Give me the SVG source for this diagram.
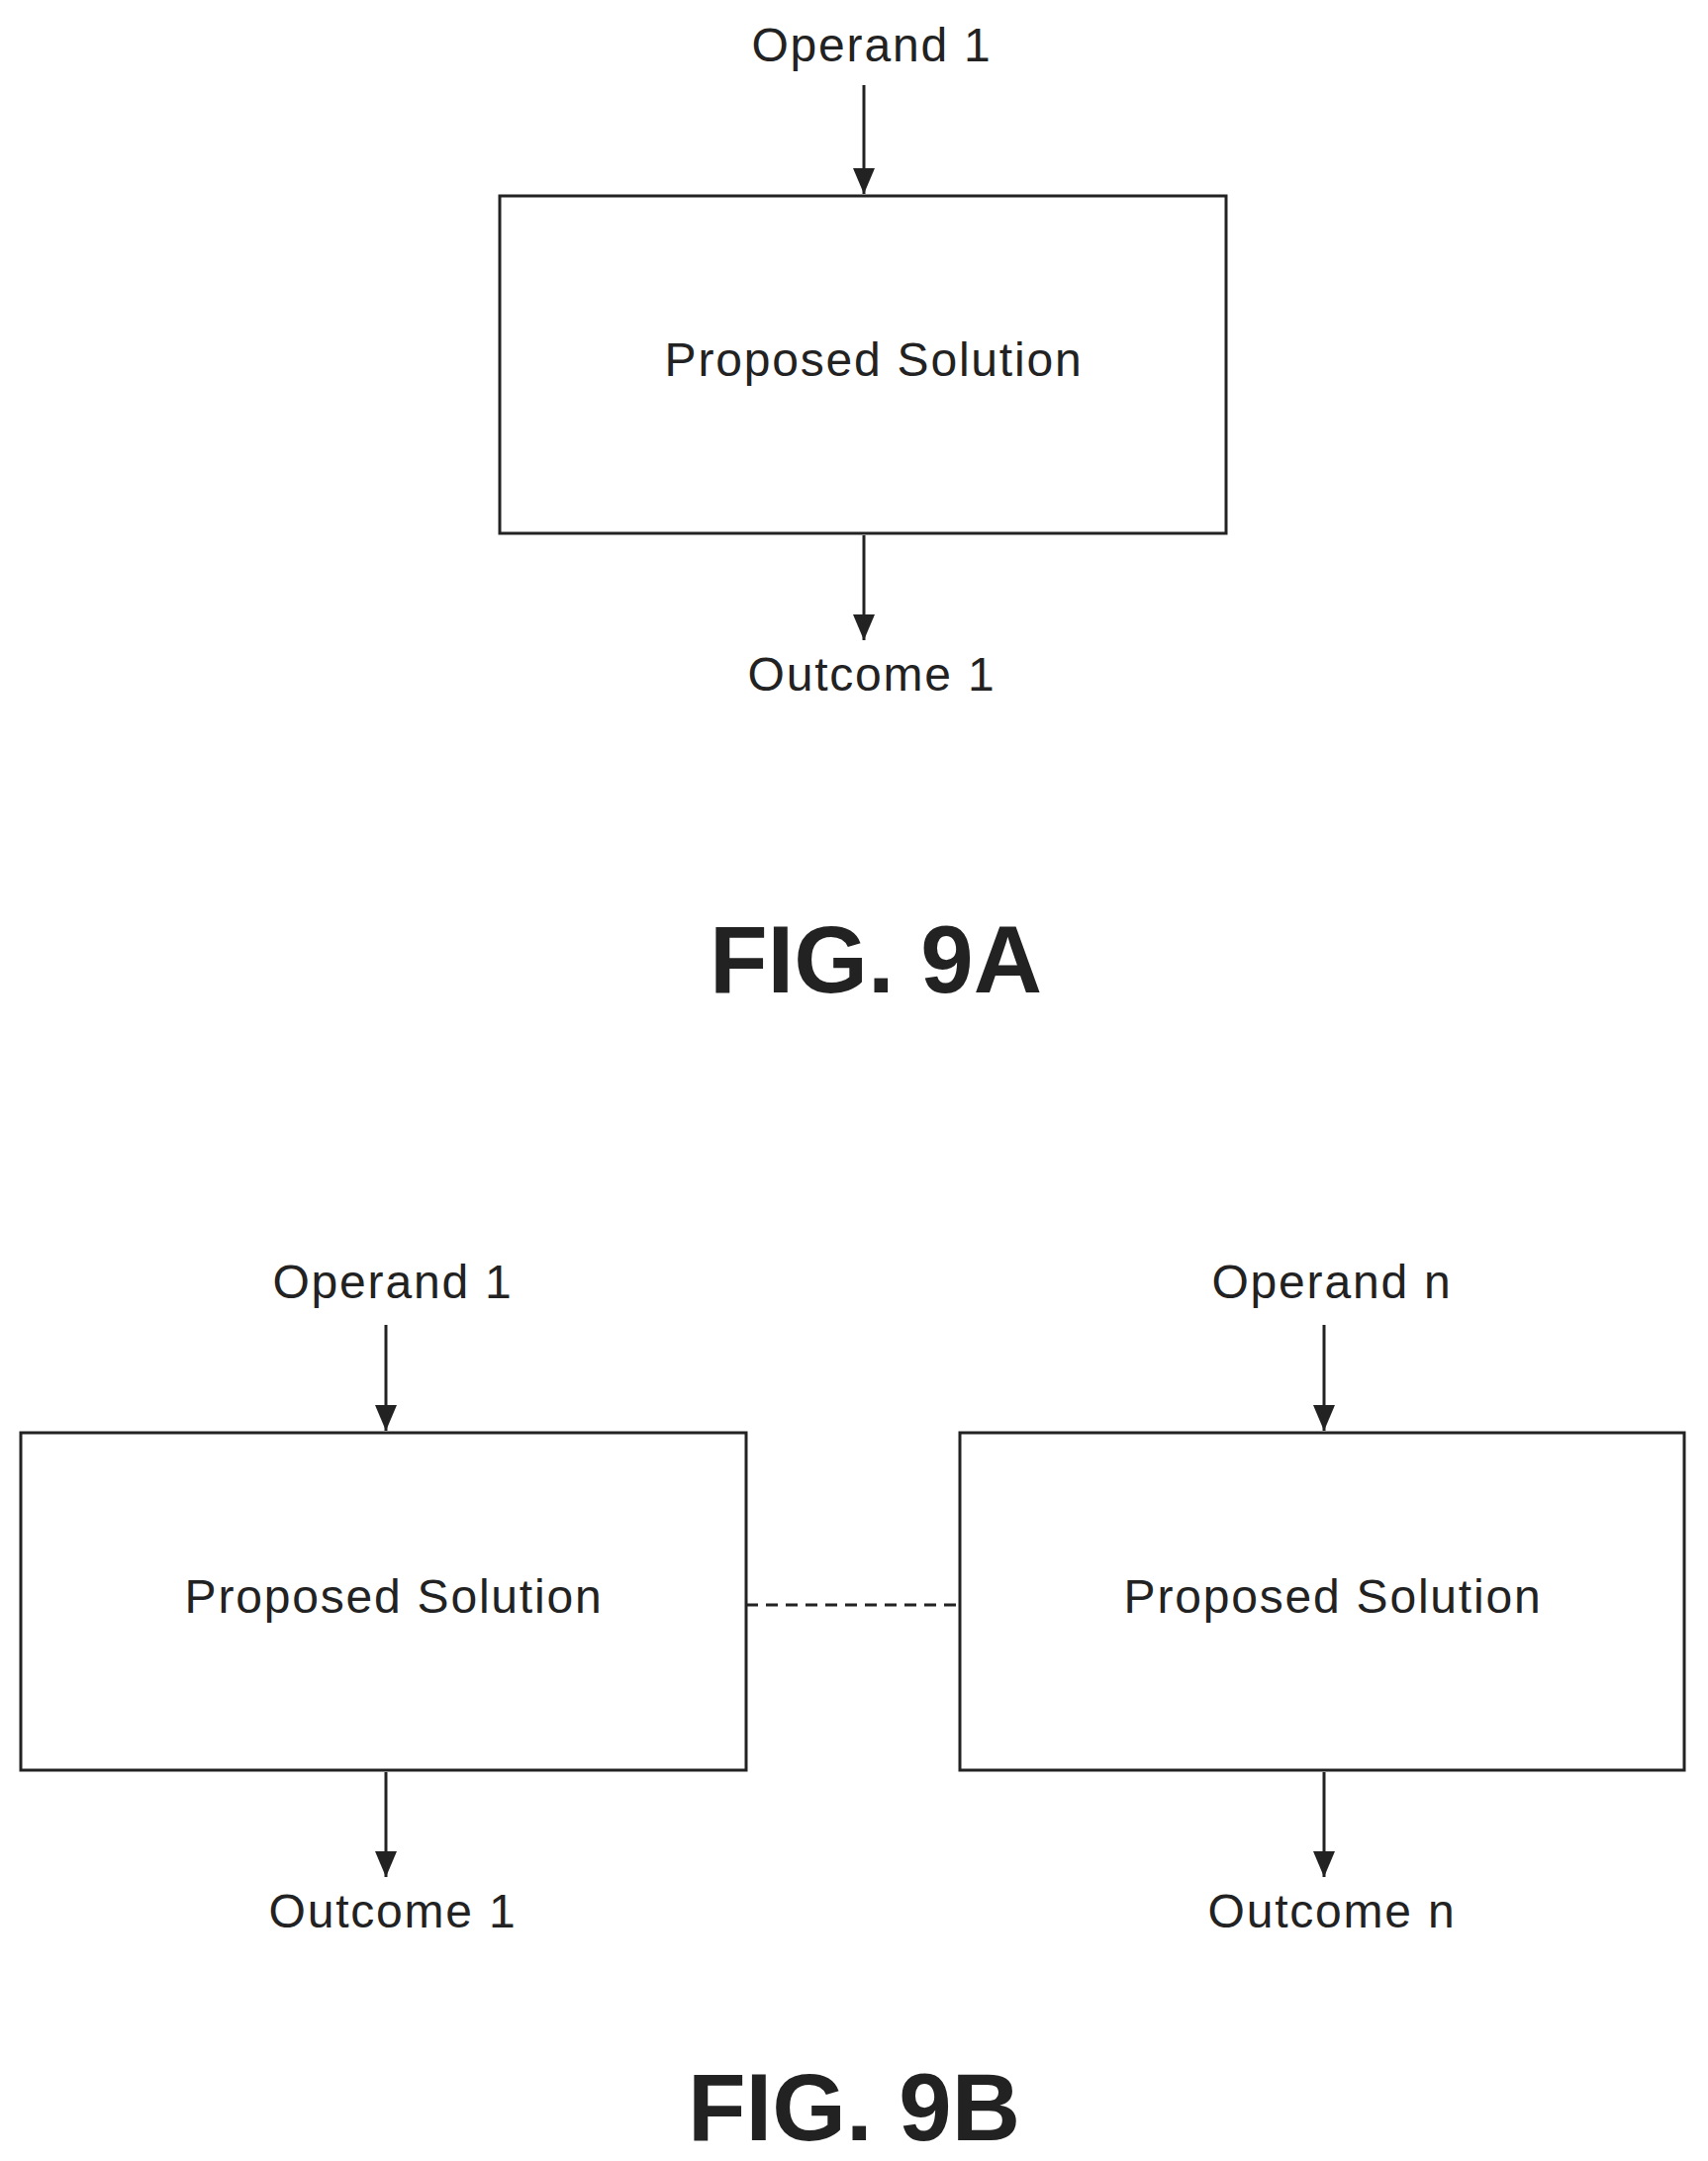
<svg xmlns="http://www.w3.org/2000/svg" width="1726" height="2184" viewBox="0 0 1726 2184">
<style>
.box{fill:none;stroke:#222;stroke-width:3}
.t{font-family:"Liberation Sans",Arial,sans-serif;font-size:48px;fill:#222;text-anchor:middle;letter-spacing:1.8px}
.fig{font-family:"Liberation Sans",Arial,sans-serif;font-size:96px;font-weight:bold;fill:#222;text-anchor:middle}
.c{stroke:#222;stroke-width:3;fill:none}
</style>
<defs>
<marker id="ar" markerWidth="26" markerHeight="22" refX="26" refY="11" orient="auto" markerUnits="userSpaceOnUse"><path d="M0,0 L26,11 L0,22 z" fill="#222"/></marker></defs>
<g id="n9a"><rect class="box" x="505" y="198" width="734" height="341"/><text class="t" x="883" y="380">Proposed Solution</text></g>
<g id="n9b1"><rect class="box" x="21" y="1448" width="733" height="341"/><text class="t" x="398" y="1630">Proposed Solution</text></g>
<g id="n9b2"><rect class="box" x="970" y="1448" width="732" height="341"/><text class="t" x="1347" y="1630">Proposed Solution</text></g>
<g id="labels">
<text class="t" x="881" y="62">Operand 1</text>
<text class="t" x="881" y="698">Outcome 1</text>
<text class="t" x="397" y="1312">Operand 1</text>
<text class="t" x="1346" y="1312">Operand n</text>
<text class="t" x="397" y="1948">Outcome 1</text>
<text class="t" x="1346" y="1948">Outcome n</text>
<text class="fig" x="885" y="1003">FIG. 9A</text>
<text class="fig" x="863" y="2163">FIG. 9B</text>
</g>
<g id="connectors">
<line class="c" x1="873" y1="86" x2="873" y2="196" marker-end="url(#ar)"/>
<line class="c" x1="873" y1="541" x2="873" y2="647" marker-end="url(#ar)"/>
<line class="c" x1="390" y1="1339" x2="390" y2="1446" marker-end="url(#ar)"/>
<line class="c" x1="1338" y1="1339" x2="1338" y2="1446" marker-end="url(#ar)"/>
<line class="c" x1="390" y1="1791" x2="390" y2="1897" marker-end="url(#ar)"/>
<line class="c" x1="1338" y1="1791" x2="1338" y2="1897" marker-end="url(#ar)"/>
<line class="c" x1="754" y1="1622" x2="970" y2="1622" stroke-dasharray="12,8"/>
</g>
</svg>
